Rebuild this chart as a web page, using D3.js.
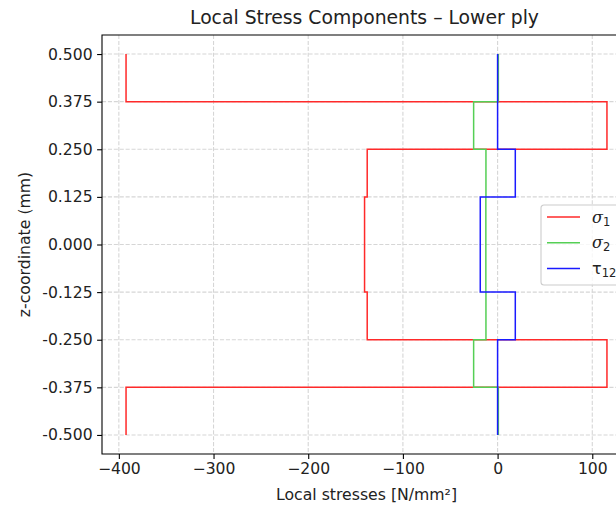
<!DOCTYPE html>
<html>
<head>
<meta charset="utf-8">
<script src="https://cdn.jsdelivr.net/npm/d3@7"></script>
<style>
  html, body { margin: 0; padding: 0; background: #fff; }
  svg { display: block; font-family: "DejaVu Sans", sans-serif; }
</style>
</head>
<body>
<svg id="chart" width="616" height="506"></svg>
<script>
// Ply interfaces through the laminate thickness (mm), top to bottom
const plyTop    = [0.5, 0.375, 0.25, 0.125, 0.0, -0.125, -0.25, -0.375];
const plyBottom = [0.375, 0.25, 0.125, 0.0, -0.125, -0.25, -0.375, -0.5];

// Local stresses in each ply (N/mm²)
const sigma1 = [-392.4, 115.5, -137.7, -140.5, -140.5, -137.7, 115.5, -392.4];
const sigma2 = [0.8, -25.3, -12.3, -12.4, -12.4, -12.3, -25.3, 0.8];
const tau12  = [0.0, 0.0, 18.7, -18.3, -18.3, 18.7, 0.0, 0.0];

// Axis ticks
const xTicks = [-400, -300, -200, -100, 0, 100];
const yTicks = [0.5, 0.375, 0.25, 0.125, 0.0, -0.125, -0.25, -0.375, -0.5];
const yTickLabels = ["0.500", "0.375", "0.250", "0.125", "0.000", "-0.125", "-0.250", "-0.375", "-0.500"];

const series = [
  { name: "σ", sub: "1", values: sigma1, color: "#ff2a2a", italic: true },
  { name: "σ", sub: "2", values: sigma2, color: "#55cf55", italic: true },
  { name: "τ", sub: "12", values: tau12, color: "#1a1aff", italic: false }
];

const svg = d3.select("#chart");
const plot = { left: 102, top: 35, right: 631, bottom: 454 };

// x domain with 5% padding around the data, as the plot is auto-scaled
const allX = sigma1.concat(sigma2, tau12);
const xMin = d3.min(allX), xMax = d3.max(allX);
const pad = (xMax - xMin) * 0.05;
const x = d3.scaleLinear().domain([xMin - pad, xMax + pad]).range([plot.left, plot.right]);
const y = d3.scaleLinear().domain([-0.55, 0.55]).range([plot.bottom, plot.top]);

// Grid
const grid = svg.append("g").attr("stroke", "#d6d6d6").attr("stroke-width", 1.1)
  .attr("stroke-dasharray", "4.1,1.8");
xTicks.forEach(t => grid.append("line")
  .attr("x1", x(t)).attr("x2", x(t)).attr("y1", plot.top).attr("y2", plot.bottom));
yTicks.forEach(t => grid.append("line")
  .attr("x1", plot.left).attr("x2", plot.right).attr("y1", y(t)).attr("y2", y(t)));

// Step profiles: each ply holds a constant stress across its thickness
const line = d3.line().x(d => x(d[0])).y(d => y(d[1]));
series.forEach(s => {
  const pts = [];
  s.values.forEach((v, i) => { pts.push([v, plyTop[i]]); pts.push([v, plyBottom[i]]); });
  svg.append("path").datum(pts)
    .attr("d", line)
    .attr("fill", "none")
    .attr("stroke", s.color)
    .attr("stroke-width", 1.5)
    .attr("stroke-linejoin", "miter");
});

// Axes
const xAxis = d3.axisBottom(x).tickValues(xTicks).tickSize(4.9).tickPadding(4);
const gx = svg.append("g").attr("transform", `translate(0,${plot.bottom})`).call(xAxis);
const yAxis = d3.axisLeft(y).tickValues(yTicks).tickSize(4.9).tickPadding(4.5)
  .tickFormat((d, i) => yTickLabels[i]);
const gy = svg.append("g").attr("transform", `translate(${plot.left},0)`).call(yAxis);
[gx, gy].forEach(g => {
  g.select(".domain").remove();
  g.selectAll(".tick line").attr("stroke", "#000").attr("stroke-width", 1.1);
  g.selectAll(".tick text").attr("fill", "#222").attr("font-size", 15.6)
    .attr("font-family", "DejaVu Sans, sans-serif");
});

// Spines (left, bottom, top)
const spine = svg.append("g").attr("stroke", "#000").attr("stroke-width", 1.1).attr("fill", "none");
spine.append("path").attr("d",
  `M${plot.right},${plot.top}H${plot.left}V${plot.bottom}H${plot.right}`);

// Title and axis labels
svg.append("text").attr("x", (plot.left + plot.right) / 2 - 2).attr("y", 24)
  .attr("text-anchor", "middle").attr("font-size", 18.8).attr("fill", "#222")
  .text("Local Stress Components – Lower ply");
svg.append("text").attr("x", (plot.left + plot.right) / 2).attr("y", 500)
  .attr("text-anchor", "middle").attr("font-size", 15.7).attr("fill", "#222")
  .text("Local stresses [N/mm²]");
svg.append("text")
  .attr("transform", `translate(30,${(plot.top + plot.bottom) / 2}) rotate(-90)`)
  .attr("text-anchor", "middle").attr("font-size", 15.7).attr("fill", "#222")
  .text("z-coordinate (mm)");

// Legend
const leg = svg.append("g").attr("transform", "translate(541,205)");
leg.append("rect").attr("x", 0).attr("y", 0).attr("width", 90).attr("height", 80)
  .attr("rx", 3).attr("fill", "#fff").attr("fill-opacity", 0.8)
  .attr("stroke", "#cccccc").attr("stroke-width", 1.1);
series.forEach((s, i) => {
  const yy = 12 + i * 25.8;
  leg.append("line").attr("x1", 6).attr("x2", 39).attr("y1", yy).attr("y2", yy)
    .attr("stroke", s.color).attr("stroke-width", 1.5);
  const t = leg.append("text").attr("x", 51).attr("y", yy + 5.5).attr("font-size", 16)
    .attr("fill", "#222");
  t.append("tspan").attr("font-style", s.italic ? "italic" : "normal")
    .attr("font-family", s.italic ? "DejaVu Serif, serif" : "DejaVu Sans, sans-serif")
    .text(s.name);
  t.append("tspan").attr("font-size", 11.5).attr("dy", 3).text(s.sub);
});
</script>
</body>
</html>
